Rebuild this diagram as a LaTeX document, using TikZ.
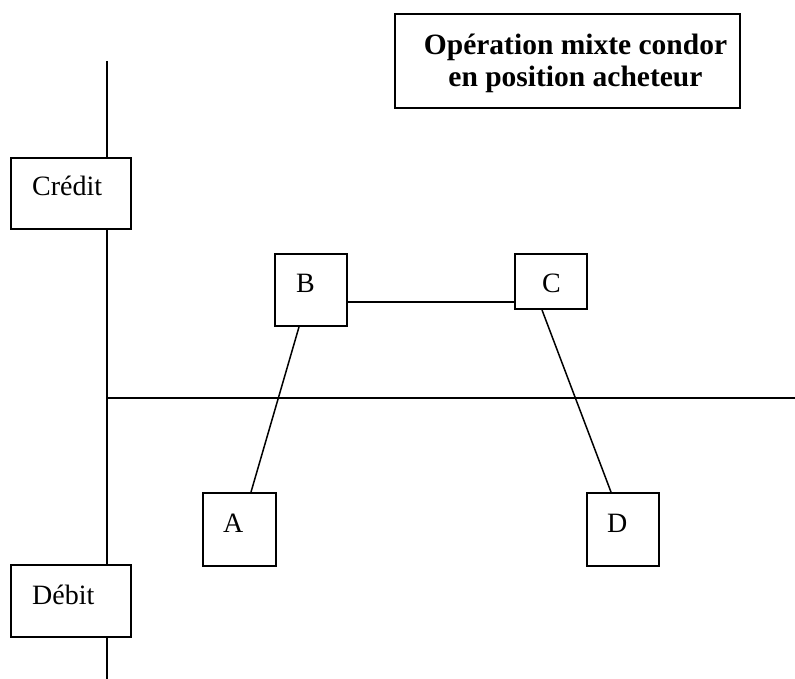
\documentclass[tikz,border=0pt]{standalone}
\usepackage{fontspec}
\setmainfont{Liberation Serif}
\begin{document}
\begin{tikzpicture}[x=1pt,y=-1pt,
  box/.style={draw,line width=1.9pt,fill=white,rectangle,inner sep=0pt},
  lbl/.style={inner sep=0pt,anchor=base west,font=\fontsize{28}{32}\selectfont},
  axis/.style={line width=1.9pt},
  link/.style={line width=1.5pt}]
\useasboundingbox (0,0) rectangle (795,679);
% axes
\coordinate (vtop) at (107,61);
\coordinate (vbot) at (107,679);
\coordinate (horig) at (107,398);
\coordinate (hend) at (795,398);
\draw[axis] (vtop) -- (vbot);
\draw[axis] (horig) -- (hend);
% title
\node[box,minimum width=345,minimum height=94] (title) at (567.5,61) {};
\node[inner sep=0pt,align=center,font=\bfseries\fontsize{29.5}{32.5}\selectfont] (titletext) at (575.5,63.5) {Opération mixte condor\\en position acheteur};
% axis labels
\node[box,minimum width=120,minimum height=71] (credit) at (71,193.5) {};
\node[lbl] (credittext) at (32,196) {Crédit};
\node[box,minimum width=120,minimum height=72] (debit) at (71,601) {};
\node[lbl] (debittext) at (32,604) {Débit};
% points
\node[box,minimum width=72,minimum height=72] (B) at (311,290) {};
\node[lbl] (Btext) at (296,292) {B};
\node[box,minimum width=72,minimum height=55] (C) at (551,281.5) {};
\node[lbl] (Ctext) at (542,292) {C};
\node[box,minimum width=73,minimum height=73] (A) at (239.5,529.5) {};
\node[lbl] (Atext) at (223,532) {A};
\node[box,minimum width=72,minimum height=73] (D) at (623,529.5) {};
\node[lbl] (Dtext) at (607,532) {D};
% connectors
\draw[link] ([yshift=-12pt]B.east) -- ([yshift=-20.5pt]C.west);
\draw[link] ([xshift=11.5pt]A.north) -- ([xshift=-12pt]B.south);
\draw[link] ([xshift=-9pt]C.south) -- ([xshift=-12pt]D.north);
\end{tikzpicture}
\end{document}
